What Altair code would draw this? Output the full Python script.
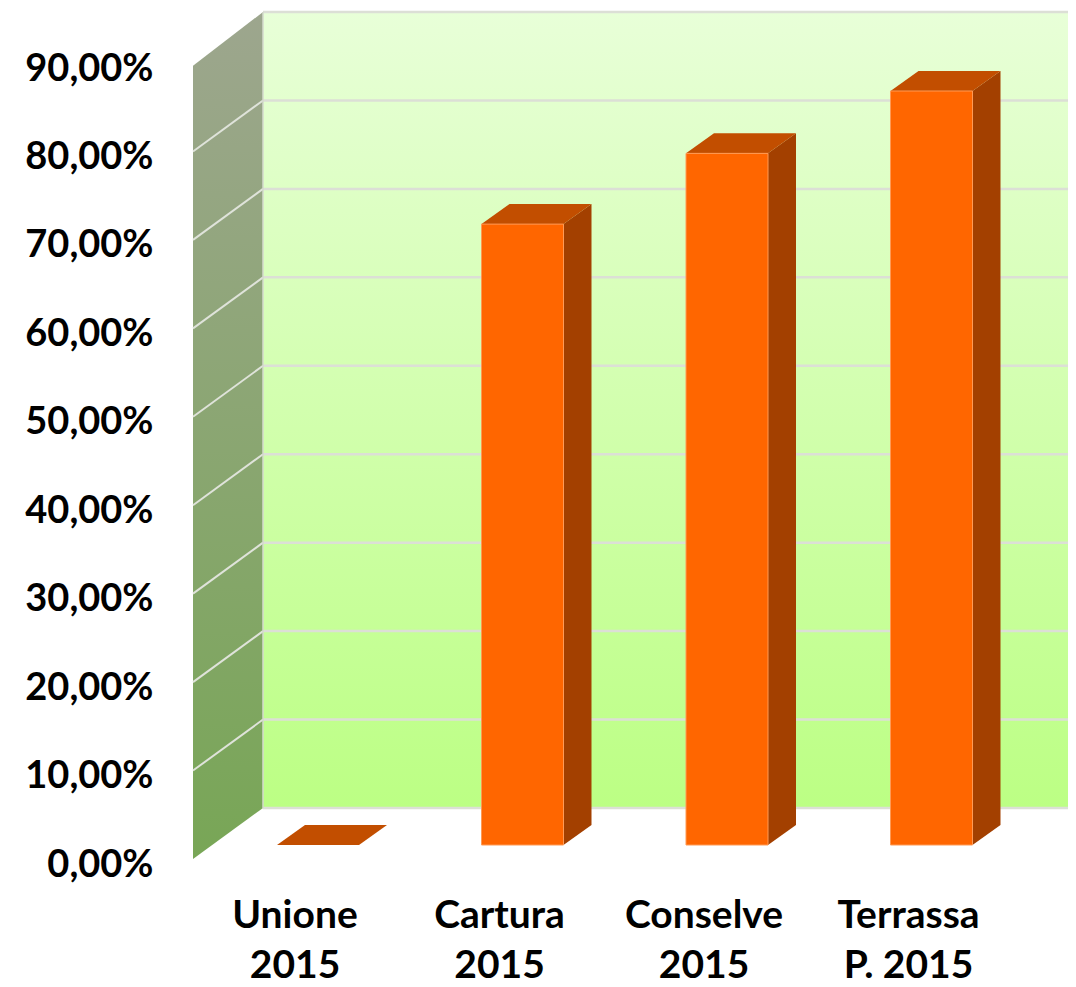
import altair as alt
import pandas as pd

categories = ["Unione 2015", "Cartura 2015", "Conselve 2015", "Terrassa P. 2015"]
label_lines = [["Unione", "2015"], ["Cartura", "2015"], ["Conselve", "2015"], ["Terrassa", "P. 2015"]]
values = [0.0, 70.2, 78.2, 85.25]
ticks = [0, 10, 20, 30, 40, 50, 60, 70, 80, 90]

W, H = 1060, 979
PX_PER_PCT = 796 / 90          # wall height in pixels per percentage point
PX_PER_CAT = 204.5
ORIGIN = 318                   # page x of the first category's bar centre
BAR_W = 82 / PX_PER_CAT
DX = 28 / PX_PER_CAT           # bar depth
DY = 20 / PX_PER_PCT
FRONT = -37 / PX_PER_PCT       # bar front plane below the back wall's zero
WALL_DX = 70 / PX_PER_CAT
WALL_DY = 51 / PX_PER_PCT
X0 = -(ORIGIN - 8) / PX_PER_CAT   # left edge in category units
X1 = X0 + W / PX_PER_CAT
Y1 = 800 / PX_PER_PCT          # top edge in percentage units
Y0 = Y1 - H / PX_PER_PCT
WALL_R = (263 - ORIGIN) / PX_PER_CAT
WALL_L = WALL_R - WALL_DX
LABEL_SHIFT = -23 / PX_PER_CAT

fmt = "replace(format(datum.value, '.2f'), '.', ',') + '%'"

xs = alt.Scale(domain=[X0, X1], range=[0, W], nice=False, zero=False)
ys = alt.Scale(domain=[Y0, Y1], range=[H, 0], nice=False, zero=False)
y_axis = alt.Axis(values=ticks, orient="left", domain=False, ticks=False, grid=False,
                  title=None, labelExpr=fmt, labelFont="Lato", labelFontWeight="bold",
                  labelFontSize=38, labelColor="#000000", labelPadding=0,
                  labelOffset=57, offset=-145, labelBound=False, labelFlush=False,
                  labelOverlap=False)
X = lambda f: alt.X(f, type="quantitative", scale=xs, axis=None)
Y = lambda f: alt.Y(f, type="quantitative", scale=ys, axis=y_axis)

# ---- back wall
back = (
    alt.Chart(pd.DataFrame({"x": [WALL_R, X1], "y": [0, 0], "y2": [90, 90]}))
    .mark_area(
        color=alt.Gradient(
            gradient="linear", x1=0, y1=1, x2=0, y2=0,
            stops=[alt.GradientStop(offset=0, color="#bcff84"),
                   alt.GradientStop(offset=1, color="#e8ffd8")],
        )
    )
    .encode(x=X("x"), y=Y("y"), y2="y2")
)

# ---- side wall
wall = (
    alt.Chart(pd.DataFrame({
        "x": [WALL_L, WALL_R],
        "y": [-WALL_DY, 0],
        "y2": [90 - WALL_DY - 0.3, 90],
    }))
    .mark_area(
        color=alt.Gradient(
            gradient="linear", x1=0, y1=1, x2=0, y2=0,
            stops=[alt.GradientStop(offset=0, color="#78a656"),
                   alt.GradientStop(offset=1, color="#9da68e")],
        )
    )
    .encode(x=X("x"), y=Y("y"), y2="y2")
)

GRID = "#dcdfd6"
grid_df = pd.DataFrame({"v": ticks})
grid_df["x1"] = WALL_R
grid_df["x2"] = X1
grid_df["xl"] = WALL_L
grid_df["vl"] = grid_df["v"] - WALL_DY

grid = alt.Chart(grid_df).mark_rule(color=GRID, strokeWidth=2.5).encode(
    x=X("x1"), x2="x2", y=Y("v")
)
diag = alt.Chart(grid_df[(grid_df.v > 0) & (grid_df.v < 90)]).mark_rule(color="#dfe3da", strokeWidth=2).encode(
    x=X("xl"), x2="x1", y=Y("vl"), y2="v"
)
edge = alt.Chart(pd.DataFrame({"x": [WALL_R], "y": [0], "y2": [90]})).mark_rule(
    color="#d5dace", strokeWidth=1.5
).encode(x=X("x"), y=Y("y"), y2="y2")

# ---- bars
rows_front, rows_top, rows_side = [], [], []
for i, (c, v) in enumerate(zip(categories, values)):
    l = i - BAR_W / 2
    r = i + BAR_W / 2
    b, t = FRONT, FRONT + v
    if v > 0:
        rows_front.append({"cat": c, "x": l, "x2": r, "y": b, "y2": t})
    rows_top += [
        {"cat": c, "x": l, "x2": r, "y": t},
        {"cat": c, "x": l + DX, "x2": r + DX, "y": t + DY},
    ]
    if v > 0:
        rows_side += [
            {"cat": c, "x": r, "y": b, "y2": t},
            {"cat": c, "x": r + DX, "y": b + DY, "y2": t + DY},
        ]

front = alt.Chart(pd.DataFrame(rows_front)).mark_bar(
    color="#ff6600", stroke="#ff9a55", strokeWidth=1
).encode(x=X("x"), x2="x2", y=Y("y"), y2="y2")

top = alt.Chart(pd.DataFrame(rows_top)).mark_area(
    orient="horizontal", color="#c24e00"
).encode(x=X("x"), x2="x2", y=Y("y"), detail="cat:N")

side = alt.Chart(pd.DataFrame(rows_side)).mark_area(
    orient="vertical", color="#a34000"
).encode(x=X("x"), y=Y("y"), y2="y2", detail="cat:N")

# ---- category labels
label_df = pd.DataFrame({
    "x": [i + LABEL_SHIFT for i in range(len(categories))],
    "y": [-(916 - 808) / PX_PER_PCT] * len(categories),
    "label": label_lines,
})
labels = alt.Chart(label_df).mark_text(
    font="Lato", fontWeight="bold", fontSize=39, color="#000000",
    align="center", baseline="middle", lineHeight=50,
).encode(x=X("x"), y=Y("y"), text="label")

chart = (
    alt.layer(back, wall, grid, diag, edge, side, top, front, labels)
    .properties(width=W, height=H, padding=0, background="#ffffff",
                autosize=alt.AutoSizeParams(type="none"))
    .configure_view(stroke=None)
)

chart.save("out.html", embed_options={"renderer": "svg", "actions": False})
